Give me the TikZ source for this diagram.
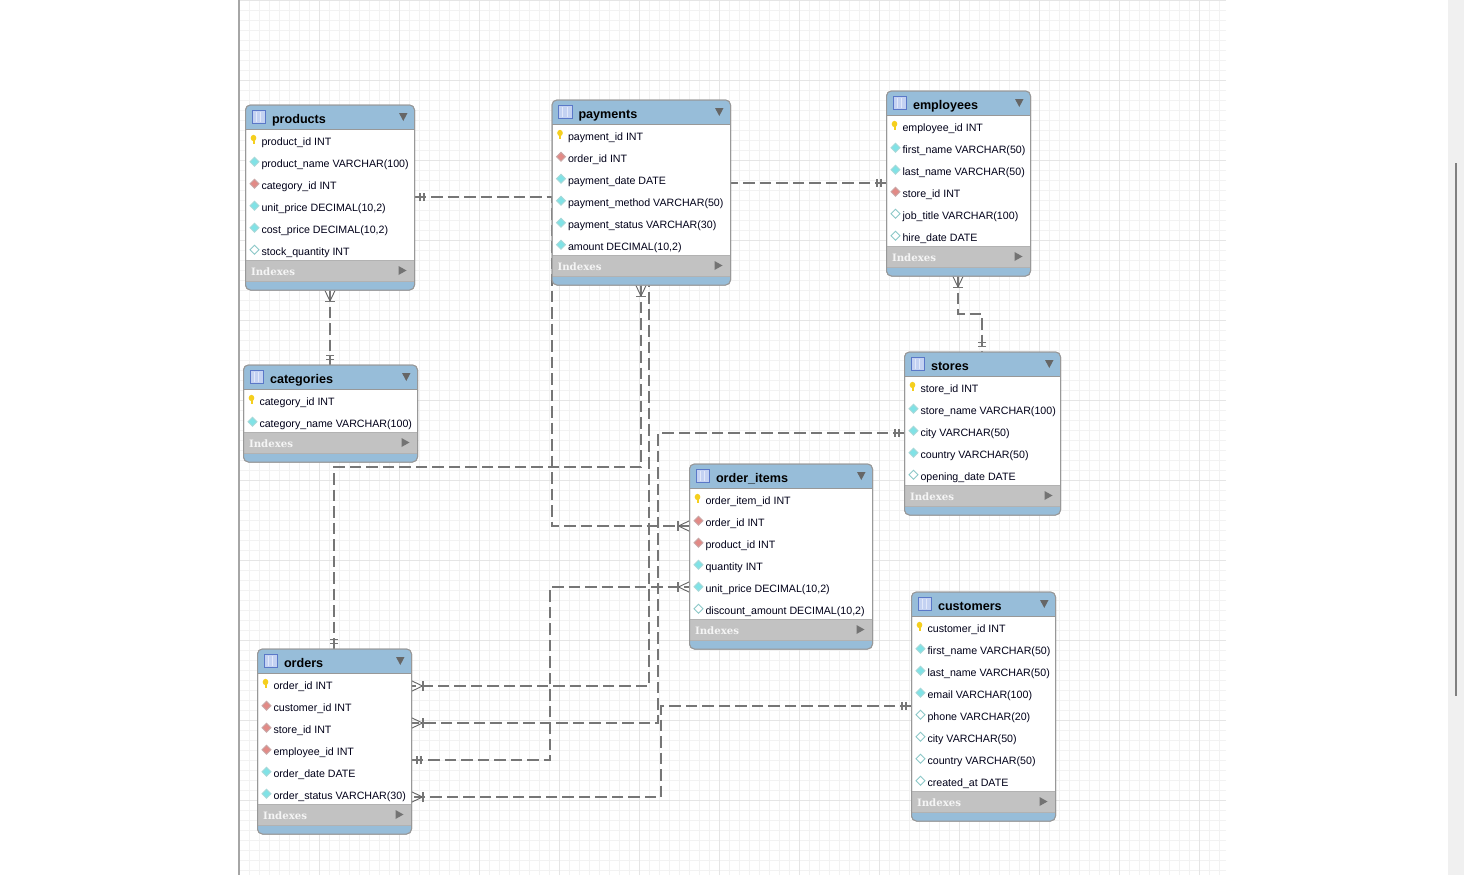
\documentclass[tikz,border=0pt]{standalone}
\usepackage{fontspec}
\setmainfont{Liberation Sans}
\newfontfamily\idxfont{DejaVu Serif}
\usetikzlibrary{calc}
\pgfdeclarelayer{front}\pgfsetlayers{main,front}
\definecolor{erblue}{HTML}{97BDD9}
\definecolor{erborder}{HTML}{989898}
\definecolor{ergray}{HTML}{C2C2C2}
\definecolor{erconn}{HTML}{767676}
\definecolor{ercyan}{HTML}{80E2E6}
\definecolor{ercyanb}{HTML}{A8D8D8}
\definecolor{erred}{HTML}{E28A86}
\definecolor{erredb}{HTML}{C8A8A8}
\definecolor{erwhiteb}{HTML}{8CC8C8}
\definecolor{erkey}{HTML}{F5CF1E}
\definecolor{ericon}{HTML}{5A78C8}
\definecolor{ericonf}{HTML}{C4D2F2}
\definecolor{erstripe}{HTML}{E2E9FA}
\tikzset{
  conn/.style={draw=erconn,line width=1.9pt,dash pattern=on 11.5pt off 5pt},
  tick/.style={draw=erconn,line width=1.5pt},
  crowline/.style={draw=erconn!85!black,line width=0.9pt},
  tablebox/.style={rectangle,rounded corners=5pt,inner sep=0pt,outer sep=0pt,draw=erborder,line width=1pt},
  rowtext/.style={anchor=base west,inner sep=0pt,outer sep=0pt,text=black!90!blue,font=\fontsize{10.65}{12}\selectfont},
  titletext/.style={anchor=base west,inner sep=0pt,outer sep=0pt,text=black,font=\fontsize{12.6}{14}\selectfont\bfseries},
  idxtext/.style={anchor=base west,inner sep=0pt,outer sep=0pt,text=white!92!gray,font=\idxfont\fontsize{10.2}{12}\selectfont\bfseries},
}
\newcommand\erdiamond[4]{\draw[fill=#3,draw=#4,line width=0.8pt] (#1-4.5,#2)--(#1,#2-4.5)--(#1+4.5,#2)--(#1,#2+4.5)--cycle;}
\newcommand\erick[2]{\fill[erkey] (#1-1,#2-3) ellipse (2.8pt and 3.2pt);\fill[erkey] (#1-2,#2-1) rectangle (#1,#2+3);}
\newcommand\ericc[2]{\erdiamond{#1}{#2-1.3}{ercyan}{ercyanb}}
\newcommand\ericr[2]{\erdiamond{#1}{#2-1.3}{erred}{erredb}}
\newcommand\ericw[2]{\erdiamond{#1}{#2-1.3}{white}{erwhiteb}}
% name, x0, x1, top, title, rows
\newcommand\ertable[7]{
  \pgfmathsetmacro\erh{53+22*#6}
  \node[tablebox,fill=white,minimum width={(#3-#2)*1pt},minimum height={\erh*1pt}] (#1) at ({(#2+#3)/2},{#4+\erh/2}) {};
  \fill[erblue,rounded corners=5pt] (#2,#4) rectangle (#3,#4+24);
  \fill[erblue] (#2,#4+10) rectangle (#3,#4+24);
  \draw[erborder,line width=0.8pt] (#2,#4+24) -- (#3,#4+24);
  \pgfmathsetmacro\erband{#4+23+22*#6}
  \fill[erblue,rounded corners=5pt] (#2,\erband+12) rectangle (#3,\erh+#4);
  \fill[erblue] (#2,\erband+12) rectangle (#3,\erband+22);
  \fill[ergray] (#2,\erband) rectangle (#3,\erband+21);
  \draw[black!30,line width=0.7pt] (#2,\erband) -- (#3,\erband) (#2,\erband+21) -- (#3,\erband+21);
  \node[tablebox,minimum width={(#3-#2)*1pt},minimum height={\erh*1pt}] at ({(#2+#3)/2},{#4+\erh/2}) {};
  % header icon
  \draw[fill=ericonf,draw=ericon,line width=0.9pt] (#2+6.5,#4+5.5) rectangle (#2+20,#4+18.5);
  \draw[erstripe,line width=0.8pt] (#2+10.5,#4+7) -- (#2+10.5,#4+17) (#2+15,#4+7) -- (#2+15,#4+17);
  \node[titletext] (#1-title) at (#2+26.5,#4+18) {#5};
  \fill[black!60] (#3-15.5,#4+8) -- (#3-7,#4+8) -- (#3-11.2,#4+16) -- cycle;
  \foreach \kind/\txt [count=\i] in {#7} {
    \pgfmathsetmacro\ery{#4+36+22*(\i-1)}
    \csname eric\kind\endcsname{#2+9}{\ery}
    \node[rowtext] (#1-r\i) at (#2+16,\ery+4) {\txt};
  }
  \node[idxtext] (#1-idx) at (#2+5.5,\erband+15) {Indexes};
  \fill[black!55] (#3-16,\erband+6) -- (#3-8,\erband+10.5) -- (#3-16,\erband+15) -- cycle;
}
% crow's foot and double bar, drawn at a table edge; angle = outward direction
\newcommand\crowfoot[2]{\begin{scope}[shift={(#1)},rotate=#2]
  \draw[crowline] (0,5.3) -- (11,0) -- (0,-5.3);
  \draw[tick] (11.5,5) -- (11.5,-5);
\end{scope}}
\newcommand\onlyone[2]{\begin{scope}[shift={(#1)},rotate=#2]
  \draw[tick] (5.5,4.2) -- (5.5,-4.2) (9.7,4.2) -- (9.7,-4.2);
\end{scope}}
\begin{document}
\begin{tikzpicture}[x=1pt,y=-1pt]
\useasboundingbox (0,0) rectangle (1464,875);
\fill[white] (0,0) rectangle (1464,875);
% drawing grid
\foreach \gx in {249.5,259.5,...,1225} \draw[black!5,line width=1pt] (\gx,0) -- (\gx,875);
\foreach \gy in {10.5,20.5,...,875} \draw[black!5,line width=1pt] (240,\gy) -- (1226,\gy);
\foreach \gx in {319.5,399.5,...,1225} \draw[black!10,line width=1pt] (\gx,0) -- (\gx,875);
\foreach \gy in {0.5,80.5,...,875} \draw[black!10,line width=1pt] (240,\gy) -- (1226,\gy);
\draw[black!35,line width=2pt] (239,0) -- (239,875);
% scrollbar
\fill[black!6] (1448,0) rectangle (1464,875);
\fill[black!50] (1455,163) rectangle (1457,696);
% tables lie in front of the connectors
\begin{pgfonlayer}{front}
\ertable{products}{245.5}{414.5}{105}{products}{6}{k/product\_id INT,c/product\_name VARCHAR(100),r/category\_id INT,c/{unit\_price DECIMAL(10,2)},c/{cost\_price DECIMAL(10,2)},w/stock\_quantity INT}
\ertable{payments}{552}{730.5}{100}{payments}{6}{k/payment\_id INT,r/order\_id INT,c/payment\_date DATE,c/payment\_method VARCHAR(50),c/payment\_status VARCHAR(30),c/{amount DECIMAL(10,2)}}
\ertable{employees}{886.5}{1030.5}{91}{employees}{6}{k/employee\_id INT,c/first\_name VARCHAR(50),c/last\_name VARCHAR(50),r/store\_id INT,w/job\_title VARCHAR(100),w/hire\_date DATE}
\ertable{categories}{243.5}{417.5}{365}{categories}{2}{k/category\_id INT,c/category\_name VARCHAR(100)}
\ertable{stores}{904.5}{1060.5}{352}{stores}{5}{k/store\_id INT,c/store\_name VARCHAR(100),c/city VARCHAR(50),c/country VARCHAR(50),w/opening\_date DATE}
\ertable{orderitems}{689.5}{872.5}{464}{order\_items}{6}{k/order\_item\_id INT,r/order\_id INT,r/product\_id INT,c/quantity INT,c/{unit\_price DECIMAL(10,2)},w/{discount\_amount DECIMAL(10,2)}}
\ertable{customers}{911.5}{1055.5}{592}{customers}{8}{k/customer\_id INT,c/first\_name VARCHAR(50),c/last\_name VARCHAR(50),c/email VARCHAR(100),w/phone VARCHAR(20),w/city VARCHAR(50),w/country VARCHAR(50),w/created\_at DATE}
\ertable{orders}{257.5}{411.5}{649}{orders}{6}{k/order\_id INT,r/customer\_id INT,r/store\_id INT,r/employee\_id INT,c/order\_date DATE,c/order\_status VARCHAR(30)}
\end{pgfonlayer}
% connectors
\draw[conn] (products.east |- 0,197) -- (552,197) -- (552,526) -- (orderitems.west |- 0,526);
\draw[conn] (employees.west |- 0,183) -- (649,183) -- (649,686) -- (orders.east |- 0,686);
\draw[conn] (products.south -| 330,0) -- (categories.north -| 330,0);
\draw[conn] (employees.south -| 958,0) -- (958,314) -- (982,314) -- (stores.north -| 982,0);
\draw[conn] (payments.south -| 641,0) -- (641,467) -- (334,467) -- (orders.north -| 334,0);
\draw[conn] (orders.east |- 0,760) -- (550,760) -- (550,587) -- (orderitems.west |- 0,587);
\draw[conn] (stores.west |- 0,433) -- (658,433) -- (658,723) -- (orders.east |- 0,723);
\draw[conn] (customers.west |- 0,706) -- (661,706) -- (661,797) -- (orders.east |- 0,797);
% end marks
\onlyone{products.east |- 0,197}{0}
\crowfoot{orderitems.west |- 0,526}{180}
\onlyone{employees.west |- 0,183}{180}
\crowfoot{orders.east |- 0,686}{0}
\crowfoot{products.south -| 330,0}{-90}
\onlyone{categories.north -| 330,0}{90}
\crowfoot{employees.south -| 958,0}{-90}
\onlyone{stores.north -| 982,0}{90}
\crowfoot{payments.south -| 641,0}{-90}
\onlyone{orders.north -| 334,0}{90}
\onlyone{orders.east |- 0,760}{0}
\crowfoot{orderitems.west |- 0,587}{180}
\onlyone{stores.west |- 0,433}{180}
\crowfoot{orders.east |- 0,723}{0}
\onlyone{customers.west |- 0,706}{180}
\crowfoot{orders.east |- 0,797}{0}
\end{tikzpicture}
\end{document}
